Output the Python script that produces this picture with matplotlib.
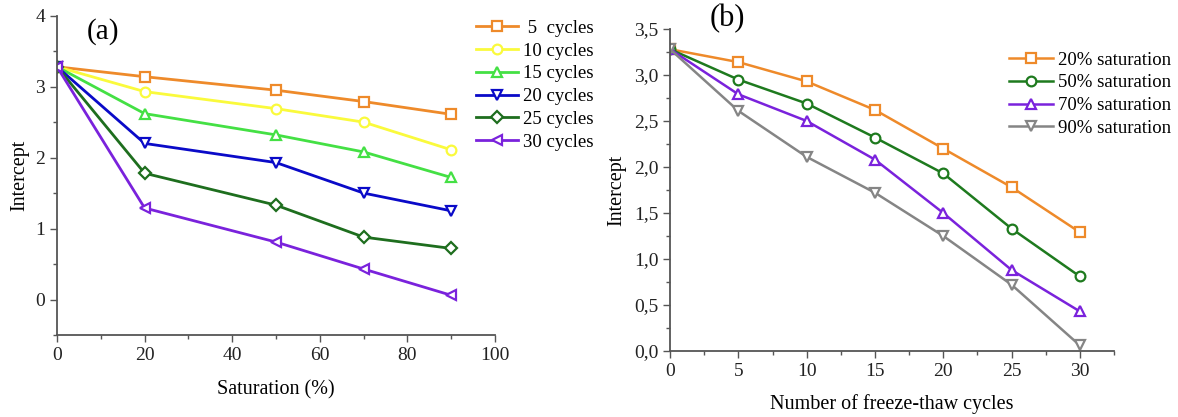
import matplotlib.pyplot as plt
from matplotlib.ticker import MultipleLocator

plt.rcParams["font.family"] = ["Liberation Serif", "DejaVu Serif"]

# panel (a): intercept vs saturation, one line per freeze-thaw count
saturation = [0, 20, 50, 70, 90]
cycle_labels = [" 5  cycles", "10 cycles", "15 cycles", "20 cycles", "25 cycles", "30 cycles"]
a_5 = [3.28, 3.14, 2.95, 2.79, 2.61]
a_10 = [3.28, 2.93, 2.69, 2.50, 2.11]
a_15 = [3.28, 2.62, 2.32, 2.08, 1.72]
a_20 = [3.28, 2.20, 1.93, 1.50, 1.25]
a_25 = [3.28, 1.78, 1.33, 0.88, 0.72]
a_30 = [3.28, 1.29, 0.81, 0.43, 0.06]

# panel (b): intercept vs number of cycles, one line per saturation
cycles = [0, 5, 10, 15, 20, 25, 30]
sat_labels = ["20% saturation", "50% saturation", "70% saturation", "90% saturation"]
b_20 = [3.28, 3.14, 2.93, 2.62, 2.20, 1.78, 1.29]
b_50 = [3.28, 2.95, 2.69, 2.32, 1.93, 1.33, 0.81]
b_70 = [3.28, 2.79, 2.50, 2.08, 1.50, 0.88, 0.43]
b_90 = [3.28, 2.61, 2.11, 1.72, 1.25, 0.72, 0.06]

fig = plt.figure(figsize=(11.78, 4.17), dpi=100)
ax1 = fig.add_axes([0.0484, 0.1966, 0.3718, 0.7658])
ax2 = fig.add_axes([0.5688, 0.1583, 0.3769, 0.7722])

a_series = [a_5, a_10, a_15, a_20, a_25, a_30]
a_colors = ["#EE8A2A", "#FAFA3C", "#44E044", "#0A0AC8", "#1E6E1E", "#7A22DC"]
a_markers = ["s", "o", "^", "v", "D", "<"]
for ys, lab, c, m in zip(a_series, cycle_labels, a_colors, a_markers):
    ax1.plot(saturation, ys, color=c, lw=2, marker=m, ms=7 if m != "D" else 6,
             mfc="white", mec=c, mew=1.6, label=lab)

ax1.set_xlim(0, 100)
ax1.set_ylim(-0.5, 4)
ax1.xaxis.set_major_locator(MultipleLocator(20))
ax1.xaxis.set_minor_locator(MultipleLocator(10))
ax1.yaxis.set_major_locator(MultipleLocator(1))
ax1.yaxis.set_minor_locator(MultipleLocator(0.5))
ax1.set_xlabel("Saturation (%)", fontsize=14.5, labelpad=12)
ax1.set_ylabel("Intercept", fontsize=14.5, labelpad=4)
ax1.text(0.105, 0.949, "(a)", transform=ax1.transAxes, fontsize=21, va="center", ha="center")
ax1.legend(loc="upper left", bbox_to_anchor=(0.957, 0.987), frameon=False, fontsize=13.5,
           handlelength=2.25, handletextpad=0.27, labelspacing=0.3, borderaxespad=0,
           borderpad=0)

b_series = [b_20, b_50, b_70, b_90]
b_colors = ["#EE8A2A", "#1E7A1E", "#7A22DC", "#858585"]
b_markers = ["s", "o", "^", "v"]
for ys, lab, c, m in zip(b_series, sat_labels, b_colors, b_markers):
    ax2.plot(cycles, ys, color=c, lw=1.8, marker=m, ms=7, mfc="white", mec=c,
             mew=1.6, label=lab)

ax2.set_xlim(0, 32.5)
ax2.set_ylim(0, 3.5)
ax2.xaxis.set_major_locator(MultipleLocator(5))
ax2.xaxis.set_minor_locator(MultipleLocator(2.5))
ax2.yaxis.set_major_locator(MultipleLocator(0.5))
ax2.yaxis.set_minor_locator(MultipleLocator(0.25))
ax2.yaxis.set_major_formatter(lambda v, p: f"{v:.1f}".replace(".", ","))
ax2.set_xlabel("Number of freeze-thaw cycles", fontsize=14.5, labelpad=10)
ax2.set_ylabel("Intercept", fontsize=14.5, labelpad=5)
ax2.text(0.128, 1.031, "(b)", transform=ax2.transAxes, fontsize=22, va="center", ha="center")
ax2.legend(loc="upper left", bbox_to_anchor=(0.7635, 0.93), frameon=False, fontsize=13.5,
           handlelength=2.35, handletextpad=0.25, labelspacing=0.3, borderaxespad=0,
           borderpad=0)

for ax in (ax1, ax2):
    ax.spines["top"].set_visible(False)
    ax.spines["right"].set_visible(False)
    ax.spines["left"].set_color("#555555")
    ax.spines["bottom"].set_color("#555555")
    ax.spines["left"].set_linewidth(1.3)
    ax.spines["bottom"].set_linewidth(1.3)
    ax.tick_params(which="major", length=5, width=1, colors="#555555", labelcolor="#222222",
                   labelsize=14)
    ax.tick_params(which="minor", length=3, width=1, colors="#555555")

plt.savefig("out.png", dpi=100)
